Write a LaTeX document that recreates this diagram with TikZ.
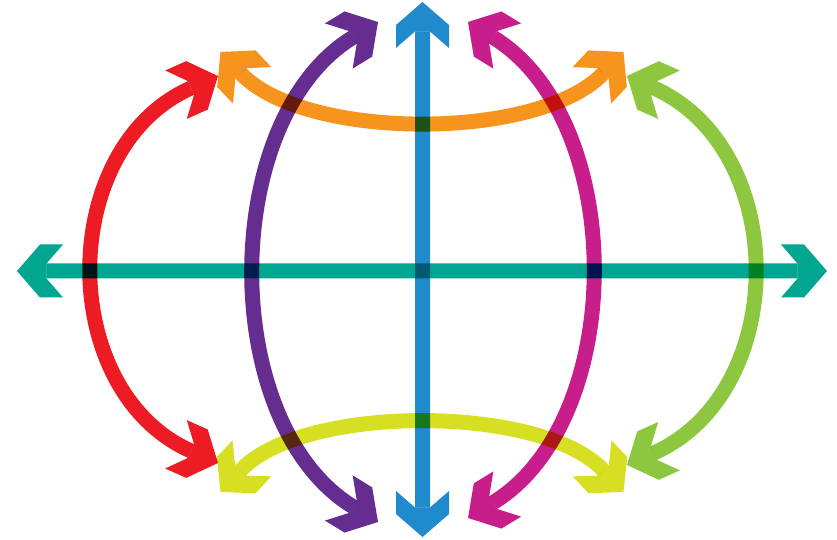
\documentclass[tikz,border=0pt]{standalone}
\usetikzlibrary{arrows.meta}

% flat-backed chevron head, the shaft stops where the notch meets it
\pgfdeclarearrow{
  name = Chevron,
  parameters = {\the\pgfarrowlength,\the\pgfarrowwidth,\the\pgflinewidth},
  setup code = {
    \pgfmathsetmacro\chevhalf{0.5*\pgflinewidth}
    \pgfmathsetmacro\chevnotch{-0.5*\pgfarrowlength-\pgfarrowlength*\chevhalf/\pgfarrowwidth}
    \pgfarrowssettipend{0pt}
    \pgfarrowssetlineend{\chevnotch pt}
    \pgfarrowssetvisualbackend{-.5\pgfarrowlength}
    \pgfarrowssetbackend{-\pgfarrowlength}
    \pgfarrowshullpoint{0pt}{0pt}
    \pgfarrowshullpoint{-\pgfarrowlength}{.5\pgfarrowwidth}
    \pgfarrowshullpoint{-\pgfarrowlength}{-.5\pgfarrowwidth}
    \pgfarrowssave\chevhalf
    \pgfarrowssave\chevnotch
    \pgfarrowssavethe\pgfarrowlength
    \pgfarrowssavethe\pgfarrowwidth
  },
  drawing code = {
    \pgfpathmoveto{\pgfpointorigin}
    \pgfpathlineto{\pgfpoint{-.5\pgfarrowlength}{.5\pgfarrowwidth}}
    \pgfpathlineto{\pgfpoint{-\pgfarrowlength}{.5\pgfarrowwidth}}
    \pgfpathlineto{\pgfpoint{\chevnotch pt}{\chevhalf pt}}
    \pgfpathlineto{\pgfpoint{\chevnotch pt}{-\chevhalf pt}}
    \pgfpathlineto{\pgfpoint{-\pgfarrowlength}{-.5\pgfarrowwidth}}
    \pgfpathlineto{\pgfpoint{-.5\pgfarrowlength}{-.5\pgfarrowwidth}}
    \pgfpathclose
    \pgfusepathqfill
  },
  defaults = {length=46pt, width=53pt}
}

\definecolor{gteal}{RGB}{0,166,144}
\definecolor{gblue}{RGB}{31,138,204}
\definecolor{gorange}{RGB}{247,148,29}
\definecolor{gyellow}{RGB}{215,223,35}
\definecolor{gred}{RGB}{237,28,36}
\definecolor{gpurple}{RGB}{102,45,145}
\definecolor{gmagenta}{RGB}{200,30,140}
\definecolor{ggreen}{RGB}{141,198,63}

\begin{document}
\begin{tikzpicture}[
    x=1pt, y=1pt,
    band/.style={line width=15pt, arrows={Chevron-Chevron}}
  ]
  \useasboundingbox (-422.5,-269) rectangle (414.5,271);

  % arrow tips
  \coordinate (tw) at (-405.5,0);
  \coordinate (te) at (404.5,0);
  \coordinate (bn) at (0,269);
  \coordinate (bs) at (0,-266);
  \coordinate (ow) at (-202,219);
  \coordinate (oe) at (201,219);
  \coordinate (yw) at (-202,-221);
  \coordinate (ye) at (201,-221);
  \coordinate (rn) at (-204.5,195);
  \coordinate (rs) at (-204.5,-192);
  \coordinate (pn) at (-44.5,249);
  \coordinate (ps) at (-44.5,-251);
  \coordinate (mn) at (45.5,249);
  \coordinate (ms) at (45.5,-247);
  \coordinate (gn) at (204.5,195);
  \coordinate (gs) at (204.5,-194);

  \begin{scope}[blend group=multiply]
    % meridians
    \draw[band, gred] (rn) .. controls (-366.5,123) and (-366.5,-120) .. (rs);
    \draw[band, gpurple] (pn) .. controls (-204.5,151) and (-204.5,-153) .. (ps);
    \draw[band, gmagenta] (mn) .. controls (205.5,151) and (205.5,-149) .. (ms);
    \draw[band, ggreen] (gn) .. controls (367.8,122) and (367.8,-121) .. (gs);
    % parallels
    \draw[band, gorange] (ow) .. controls (-117.4,130) and (116.4,130) .. (oe);
    \draw[band, gyellow] (yw) .. controls (-120,-133) and (119,-133) .. (ye);
    % axes
    \draw[band, gteal] (tw) -- (te);
    \draw[band, gblue] (bs) -- (bn);
  \end{scope}
\end{tikzpicture}
\end{document}
